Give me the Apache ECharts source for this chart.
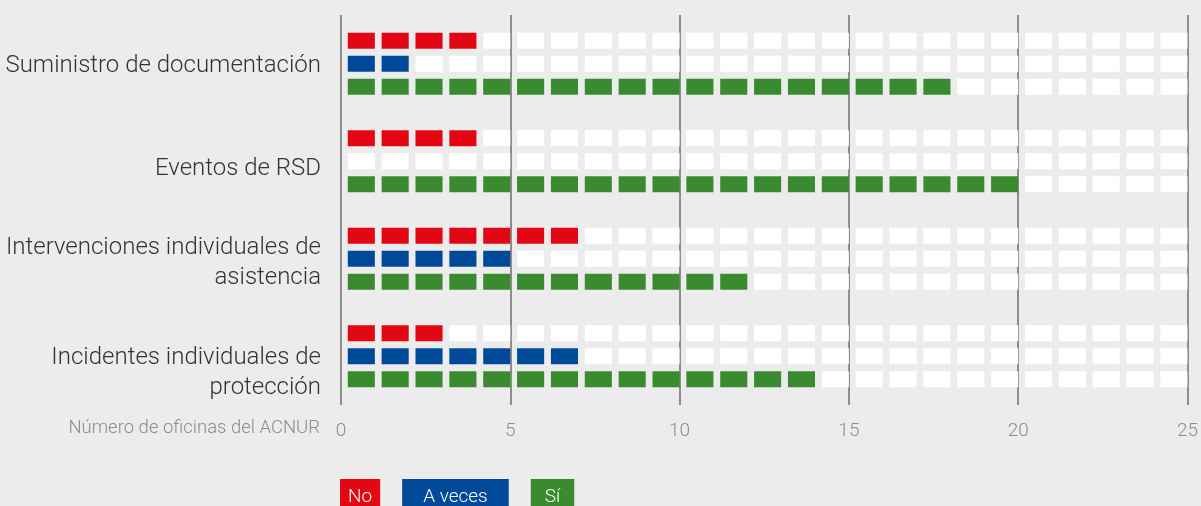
<!DOCTYPE html>
<html>
<head>
<meta charset="utf-8">
<script src="https://cdn.jsdelivr.net/npm/echarts@6/dist/echarts.min.js"></script>
<style>
  html, body { margin: 0; padding: 0; background: #ececec; }
  #container { width: 1201px; height: 506px; }
</style>
</head>
<body>
<div id="container"></div>
<script>
// datos del gráfico
var categories = [
    "Suministro de documentación",
    "Eventos de RSD",
    "Intervenciones individuales de\nasistencia",
    "Incidentes individuales de\nprotección"
];
var valuesNo = [4, 4, 7, 3];
var valuesAVeces = [2, 0, 5, 7];
var valuesSi = [18, 20, 12, 14];
var maxOficinas = 25;

var colorNo = "#e30613";
var colorAVeces = "#004a99";
var colorSi = "#3a8a30";
var font = "Roboto";
// desplazamiento vertical de cada etiqueta (px), como en el original
var labelShift = [2, 8, 4, 17];

// una fila de casillas por serie, desplazada dentro de la categoría
function makeRow(offset, color) {
    return function (params, api) {
        var val = api.value(0);
        var cat = api.value(1);
        var band = api.size([0, 1])[1];
        var h = band * 0.164;
        var children = [];
        for (var i = 0; i < maxOficinas; i++) {
            var p0 = api.coord([i, cat]);
            var p1 = api.coord([i + 1, cat]);
            var unit = p1[0] - p0[0];
            children.push({
                type: 'rect',
                shape: {
                    x: p0[0] + unit * 0.2,
                    y: p0[1] + offset * band - h / 2,
                    width: unit * 0.8,
                    height: h
                },
                style: { fill: i < val ? color : '#ffffff' }
            });
        }
        return { type: 'group', children: children };
    };
}

function toData(arr) {
    var out = [];
    for (var i = 0; i < arr.length; i++) {
        out.push([arr[i], i]);
    }
    return out;
}

// estilos rich: una línea vacía arriba baja cada etiqueta
var labelRich = {
    t: { fontSize: 24, fontWeight: 300, lineHeight: 30, color: '#333333', fontFamily: font, align: 'right' }
};
labelShift.forEach(function (s, i) {
    labelRich['g' + i] = { fontSize: 1, lineHeight: s * 2, align: 'right' };
});

var dom = document.getElementById("container");
var myChart = echarts.init(dom);
var option;

option = {
    backgroundColor: '#ececec',
    animation: false,
    textStyle: { fontFamily: font },
    grid: {
        left: 341,
        right: 12,
        top: 15,
        bottom: 101,
        containLabel: false
    },
    graphic: [
        {
            type: 'text',
            right: 881,
            top: 419,
            style: {
                text: 'Número de oficinas del ACNUR',
                fill: '#8c8c8c',
                fontFamily: font,
                fontSize: 18.5,
                fontWeight: 300
            }
        }
    ],
    legend: {
        left: 330,
        top: 474,
        icon: 'none',
        itemWidth: 0,
        itemHeight: 20,
        itemGap: 17,
        selectedMode: false,
        textStyle: {
            color: '#ffffff',
            fontSize: 19,
            fontWeight: 300,
            lineHeight: 20
        },
        data: [
            { name: 'No', textStyle: { backgroundColor: colorNo, padding: [4, 8, 12, 8] } },
            { name: 'A veces', textStyle: { backgroundColor: colorAVeces, padding: [4, 21, 12, 21] } },
            { name: 'Sí', textStyle: { backgroundColor: colorSi, padding: [4, 14, 12, 14] } }
        ]
    },
    xAxis: {
        type: 'value',
        min: 0,
        max: maxOficinas,
        interval: 5,
        axisLine: { show: false },
        axisTick: { show: false },
        axisLabel: {
            color: '#8c8c8c',
            fontSize: 19,
            fontWeight: 300,
            margin: 17
        },
        splitLine: {
            show: true,
            lineStyle: { color: '#6e6e6e', width: 1.5 }
        }
    },
    yAxis: {
        type: 'category',
        inverse: true,
        data: categories,
        axisLine: { show: false },
        axisTick: { show: false },
        splitLine: { show: false },
        axisLabel: {
            margin: 20,
            align: 'right',
            formatter: function (value, index) {
                var lines = value.split('\n').map(function (l) {
                    return '{t|' + l + '}';
                });
                return '{g' + index + '| }\n' + lines.join('\n');
            },
            rich: labelRich
        }
    },
    series: [
        {
            name: 'No',
            type: 'custom',
            itemStyle: { color: colorNo },
            renderItem: makeRow(-0.236, colorNo),
            encode: { x: 0, y: 1 },
            data: toData(valuesNo)
        },
        {
            name: 'A veces',
            type: 'custom',
            itemStyle: { color: colorAVeces },
            renderItem: makeRow(0, colorAVeces),
            encode: { x: 0, y: 1 },
            data: toData(valuesAVeces)
        },
        {
            name: 'Sí',
            type: 'custom',
            itemStyle: { color: colorSi },
            renderItem: makeRow(0.236, colorSi),
            encode: { x: 0, y: 1 },
            data: toData(valuesSi)
        }
    ]
};

if (option && typeof option === 'object') {
    myChart.setOption(option);
}
</script>
</body>
</html>
